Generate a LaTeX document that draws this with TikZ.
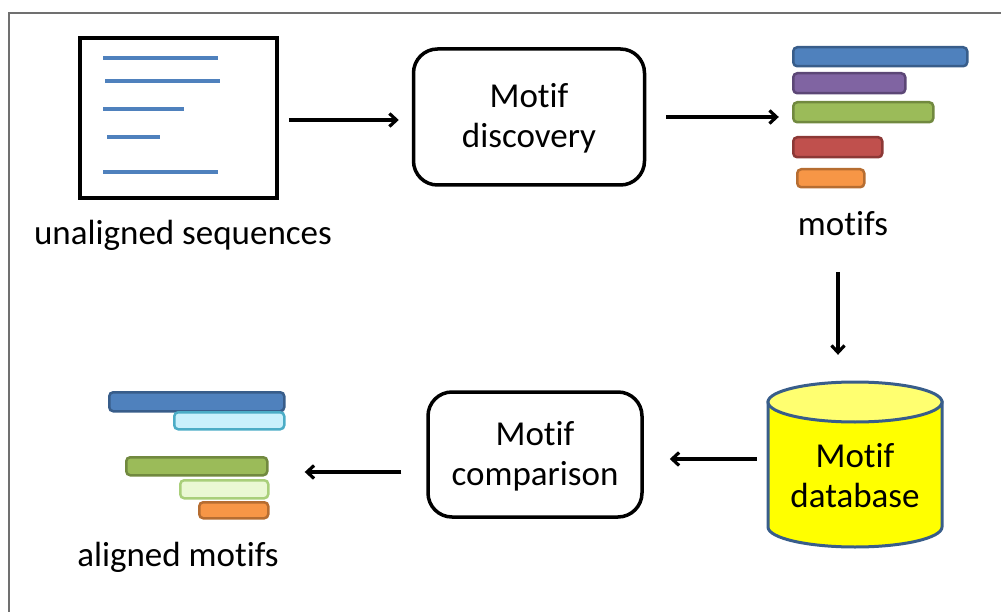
\documentclass[tikz,border=0pt]{standalone}
\usepackage{fontspec}
\setmainfont{Carlito}[Ligatures=NoCommon]
\usetikzlibrary{arrows.meta,fit}
\definecolor{seqblue}{HTML}{4F81BD}
\definecolor{bblue}{HTML}{4F81BD}\definecolor{bblueD}{HTML}{385D8A}
\definecolor{bpurp}{HTML}{8064A2}\definecolor{bpurpD}{HTML}{5C4776}
\definecolor{bgreen}{HTML}{9BBB59}\definecolor{bgreenD}{HTML}{71893F}
\definecolor{bred}{HTML}{C0504D}\definecolor{bredD}{HTML}{8C3836}
\definecolor{borange}{HTML}{F79646}\definecolor{borangeD}{HTML}{B66D31}
\definecolor{bcyan}{HTML}{C9F0FC}\definecolor{bcyanD}{HTML}{4BACC6}
\definecolor{blgreen}{HTML}{EAF8D3}\definecolor{blgreenD}{HTML}{A9CF7A}
\definecolor{dbyel}{HTML}{FFFF00}\definecolor{dbtop}{HTML}{FFFF70}
\definecolor{dbline}{HTML}{385D8A}
\definecolor{framegray}{HTML}{707070}
\begin{document}
\begin{tikzpicture}[x=1pt,y=-1pt,
  lbl/.style={font=\fontsize{35}{40}\selectfont, inner sep=0pt, align=center},
  procbox/.style={draw=black, line width=3.5pt, rounded corners=24pt, inner sep=0pt},
  seqline/.style={draw=seqblue, line width=3.5pt},
  bar/.style={rounded corners=4pt, line width=2.5pt, inner sep=0pt, anchor=north west},
  arr/.style={line width=3.2pt, -{Straight Barb[length=7pt,width=13pt]}}
]
\useasboundingbox (0,0) rectangle (1001,612);
% frame
\draw[framegray, line width=1.5pt] (9,612) -- (9,13) -- (1001,13);

% unaligned sequences
\node[draw=black, line width=3.8pt, minimum width=197pt, minimum height=160pt, inner sep=0pt] (seq) at (178.5,118) {};
\draw[seqline] (103,58) -- (218,58);
\draw[seqline] (105,81) -- (220,81);
\draw[seqline] (103,109) -- (184,109);
\draw[seqline] (107,137) -- (160,137);
\draw[seqline] (103,172) -- (218,172);
\node[lbl, anchor=base] (seqlbl) at (183,245) {unaligned sequences};

% motif discovery
\node[procbox, minimum width=231pt, minimum height=136pt] (disc) at (529,117) {};
\node[lbl] (disct) at (529,118) {Motif\\discovery};

% motifs
\node[bar, fill=bblue, draw=bblueD, minimum width=174pt, minimum height=19pt] (m1) at (792,46) {};
\node[bar, fill=bpurp, draw=bpurpD, minimum width=112pt, minimum height=20pt] (m2) at (792,72) {};
\node[bar, fill=bgreen, draw=bgreenD, minimum width=140pt, minimum height=20pt] (m3) at (792,101) {};
\node[bar, fill=bred, draw=bredD, minimum width=89pt, minimum height=20pt] (m4) at (792,136) {};
\node[bar, fill=borange, draw=borangeD, minimum width=67pt, minimum height=18pt] (m5) at (796,168) {};
\node[fit=(m1)(m5), inner sep=0pt] (mset) {};
\node[lbl, anchor=base] (mlbl) at (843,236) {motifs};

% database cylinder
\node[minimum width=174pt, minimum height=165pt, inner sep=0pt] (db) at (855,464.5) {};
\draw[draw=dbline, fill=dbyel, line width=3pt]
  (768,402) -- (768,527) .. controls (768,538) and (807,547) .. (855,547)
  .. controls (903,547) and (942,538) .. (942,527) -- (942,402) -- cycle;
\draw[draw=dbline, fill=dbtop, line width=3pt] (855,402) ellipse [x radius=87, y radius=20];
\node[lbl] (dbt) at (855,476) {Motif\\database};

% motif comparison
\node[procbox, minimum width=214pt, minimum height=125pt] (comp) at (535,454.5) {};
\node[lbl] (compt) at (535,456) {Motif\\comparison};

% aligned motifs
\node[bar, fill=bblue, draw=bblueD, minimum width=175pt, minimum height=19pt] (a1) at (108,391) {};
\node[bar, fill=bcyan, draw=bcyanD, minimum width=110pt, minimum height=17pt] (a2) at (173,411) {};
\node[bar, fill=bgreen, draw=bgreenD, minimum width=141pt, minimum height=18pt] (a3) at (125,456) {};
\node[bar, fill=blgreen, draw=blgreenD, minimum width=88pt, minimum height=18pt] (a4) at (179,479) {};
\node[bar, fill=borange, draw=borangeD, minimum width=69pt, minimum height=16pt] (a5) at (198,501) {};
\node[fit=(a1)(a5), inner sep=0pt] (aset) {};
\node[lbl, anchor=base] (albl) at (178,566) {aligned motifs};

% connectors
\draw[arr, shorten <=10pt, shorten >=13pt] ([yshift=-2pt]seq.east) -- ([yshift=-2pt]seq.east -| disc.west);
\draw[arr, shorten <=20pt, shorten >=13pt] (disc.east) -- (disc.east -| mset.west);
\coordinate (a3top) at (838,272);
\draw[arr, shorten >=27pt] (a3top) -- (a3top |- db.north);
\draw[arr, shorten <=11pt, shorten >=26pt] ([yshift=5.5pt]db.west) -- ([yshift=5.5pt]db.west -| comp.east);
\draw[arr, shorten <=25pt, shorten >=19pt] ([yshift=-17.5pt]comp.west) -- ([yshift=-17.5pt]comp.west -| aset.east);
\end{tikzpicture}
\end{document}
